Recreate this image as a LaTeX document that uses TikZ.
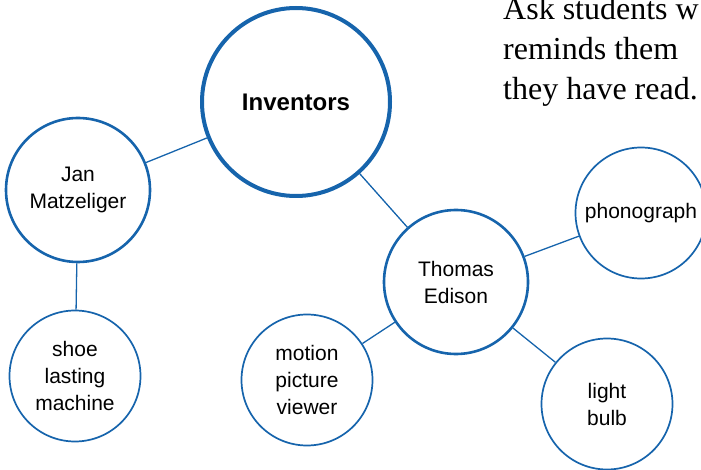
\documentclass[tikz,border=0pt]{standalone}
\usepackage{fontspec}
\usepackage{xcolor}
\usepackage{tikz}
\setmainfont{Liberation Serif}
\newfontfamily\labelfont{Liberation Sans}
\definecolor{webblue}{RGB}{22,100,172}

\begin{document}
\begin{tikzpicture}[x=1pt,y=-1pt,
    hub/.style={circle,draw=webblue,line width=4pt,minimum size=188pt,inner sep=0pt,align=center,font=\labelfont\bfseries\fontsize{24}{29}\selectfont},
    person/.style={circle,draw=webblue,line width=2.6pt,minimum size=144pt,inner sep=0pt,align=center,font=\labelfont\fontsize{21}{27}\selectfont},
    idea/.style={circle,draw=webblue,line width=1.7pt,minimum size=131pt,inner sep=0pt,align=center,font=\labelfont\fontsize{21}{27}\selectfont},
    link/.style={draw=webblue,line width=1.3pt}]
    \useasboundingbox (0,0) rectangle (701,470);
    \clip (0,0) rectangle (701,470);

    \node[hub] (inv) at (296,102) {Inventors};
    \node[person] (jan) at (78,190) {Jan\\Matzeliger};
    \node[idea] (shoe) at (75,376) {shoe\\lasting\\machine};
    \node[person] (edison) at (456,282) {Thomas\\Edison};
    \node[idea] (motion) at (307,380) {motion\\picture\\viewer};
    \node[idea] (phono) at (641,213) {phonograph};
    \node[idea] (bulb) at (607,404) {light\\bulb};

    % text beside the web, cut at the right edge
    \node[anchor=base west,inner sep=0pt,align=left,font=\fontsize{32}{40}\selectfont] (note) at (503,100) {Ask students w\\reminds them\\they have read.};

    \draw[link] (inv) -- (jan);
    \draw[link] (jan) -- (shoe);
    \draw[link] (inv) -- (edison);
    \draw[link] (edison) -- (phono);
    \draw[link] (edison) -- (bulb);
    \draw[link] (edison) -- (motion);
\end{tikzpicture}
\end{document}
